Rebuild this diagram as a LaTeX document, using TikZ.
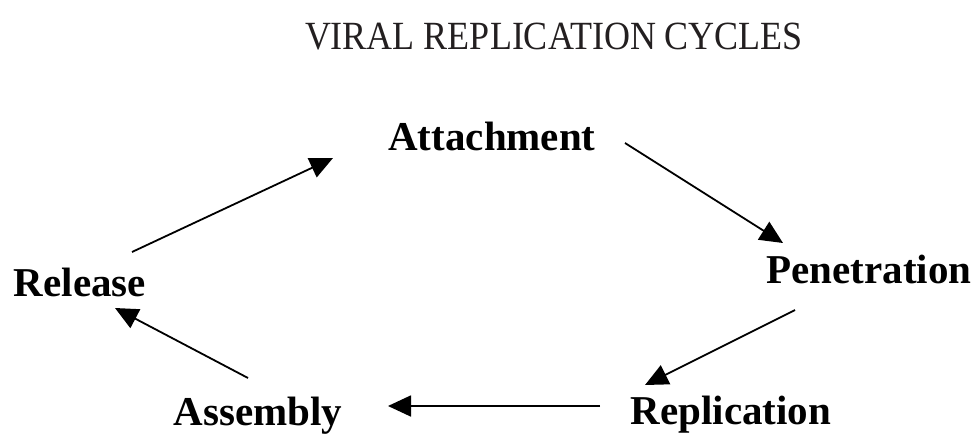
\documentclass[tikz,border=0pt]{standalone}
\usepackage{fontspec}
\setmainfont{Liberation Serif}
\usepackage{xcolor}
\usetikzlibrary{arrows.meta, positioning, calc}
\definecolor{titlegrey}{HTML}{231F20}

\begin{document}
\begin{tikzpicture}[x=1pt, y=-1pt,
    stage/.style={inner sep=0pt, anchor=base, font=\fontsize{41}{41}\selectfont\bfseries},
    cyc/.style={-{Triangle[length=23pt, width=21pt]}, line width=1.8pt},
    heading/.style={inner sep=0pt, anchor=base, text=titlegrey,
        font=\fontsize{40}{40}\selectfont, xscale=0.9}]
    \useasboundingbox (0,0) rectangle (977,444);
    \node[heading] (title) at (554,49) {VIRAL REPLICATION CYCLES};
    % the five stages
    \node[stage] (attach) at (492,150) {Attachment};
    \node[stage] (pen) at (869,283) {Penetration};
    \node[stage] (rep) at (731,424) {Replication};
    \node[stage] (asm) at (258,425) {Assembly};
    \node[stage] (rel) at (80,296) {Release};
    % arrows round the cycle
    \draw[cyc] ([shift={(52,-44)}]rel.base) -- ([shift={(-159,8)}]attach.base);
    \draw[cyc] ([shift={(133,-7)}]attach.base) -- ([shift={(-86,-40)}]pen.base);
    \draw[cyc] ([shift={(-74,27)}]pen.base) -- ([shift={(-86,-39)}]rep.base);
    \draw[cyc] ([shift={(-131,-18)}]rep.base) -- ([shift={(130,-19)}]asm.base);
    \draw[cyc] ([shift={(-10,-47)}]asm.base) -- ([shift={(35,12)}]rel.base);
\end{tikzpicture}
\end{document}
